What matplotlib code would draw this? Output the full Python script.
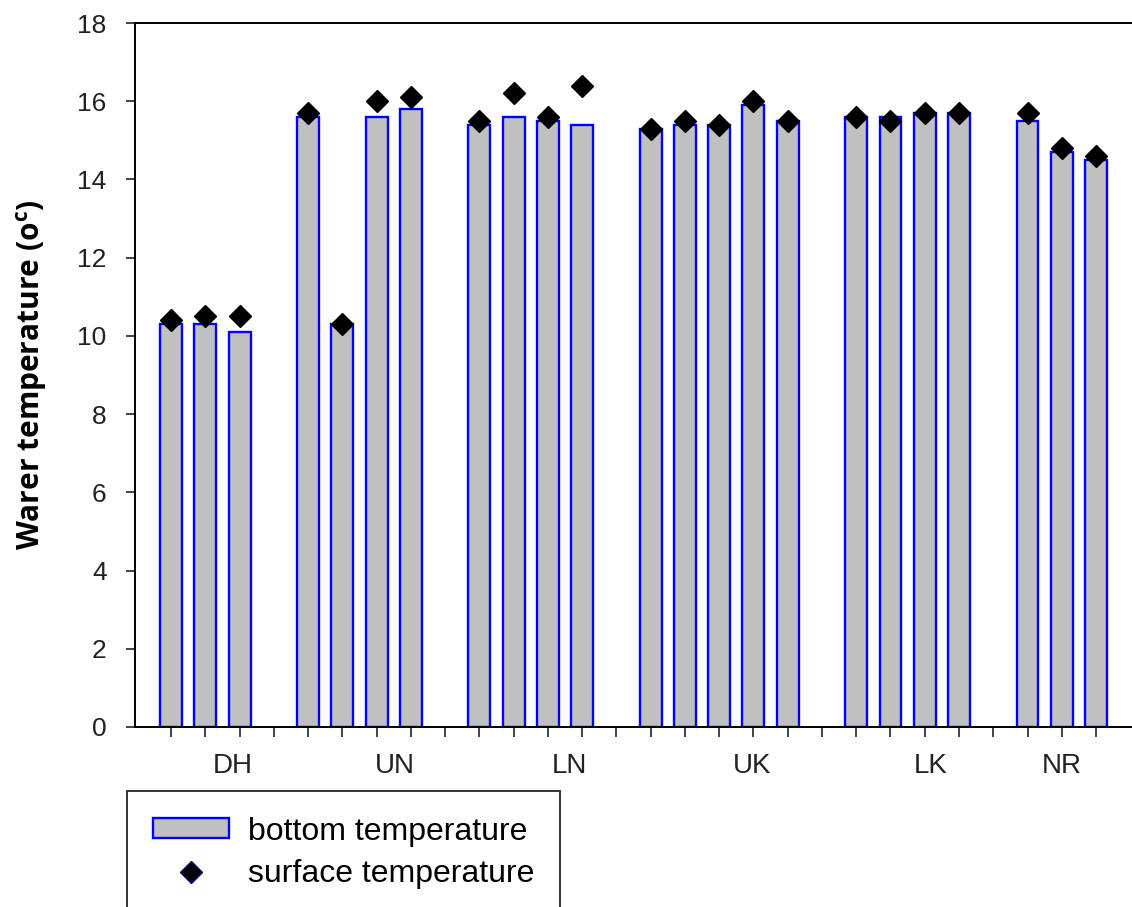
import matplotlib
matplotlib.use("Agg")
import matplotlib.pyplot as plt
from matplotlib.patches import Patch
from matplotlib.lines import Line2D

plt.rcParams['font.family'] = ['Liberation Sans', 'DejaVu Sans']
plt.rcParams['mathtext.fontset'] = 'custom'
plt.rcParams['mathtext.rm'] = 'Open Sans'

# sites and number of stations sampled at each
sites = ['DH', 'UN', 'LN', 'UK', 'LK', 'NR']
n_stations = [3, 4, 4, 5, 4, 3]

# water temperature (deg C) per station, in site order
bottom_temp = [10.3, 10.3, 10.1,
               15.6, 10.3, 15.6, 15.8,
               15.4, 15.6, 15.5, 15.4,
               15.3, 15.4, 15.4, 15.9, 15.5,
               15.6, 15.6, 15.7, 15.7,
               15.5, 14.7, 14.5]
surface_temp = [10.4, 10.5, 10.5,
                15.7, 10.3, 16.0, 16.1,
                15.5, 16.2, 15.6, 16.4,
                15.3, 15.5, 15.4, 16.0, 15.5,
                15.6, 15.5, 15.7, 15.7,
                15.7, 14.8, 14.6]

# where each site name sits along the x axis (slot units)
site_label_x = [1.81, 6.54, 11.64, 16.95, 22.18, 26.0]

# one slot per station, plus an empty slot between sites
xpos = []
slot = 0
for n in n_stations:
    xpos.extend(range(slot, slot + n))
    slot += n + 1
n_slots = slot - 1

fig = plt.figure(figsize=(11.32, 9.07), dpi=100)
ax = fig.add_axes([0.1193, 0.1985, 0.8807, 0.7761])

ax.bar(xpos, bottom_temp, width=0.64, color='#c0c0c0',
       edgecolor='#0000ff', linewidth=1.7, zorder=2)
ax.plot(xpos, surface_temp, linestyle='none', marker='D', markersize=11,
        color='black', markeredgecolor='black', zorder=3)

ax.set_xlim(-1.05, 28.05)
ax.set_ylim(0, 18)
ax.set_yticks(range(0, 19, 2))
ax.set_xticks(range(n_slots))
ax.set_xticklabels([])

ax.spines['right'].set_visible(False)
for s in ['left', 'top', 'bottom']:
    ax.spines[s].set_linewidth(1.4)
ax.tick_params(axis='y', direction='out', length=6.5, width=1.2,
               labelsize=19, pad=14, colors='#222222')
ax.tick_params(axis='x', direction='out', length=7, width=1.2, colors='#222222')

for name, lx in zip(sites, site_label_x):
    ax.text(lx, -0.0554, name, transform=ax.get_xaxis_transform(),
            ha='center', va='center', fontsize=20, color='#222222')

fig.text(32 / 1132, 0.5865, r'Warer temperature (o$^\mathregular{c}$)',
         rotation=90, ha='center', va='center', fontsize=21.5,
         fontweight='bold', family='Open Sans')

handles = [Patch(facecolor='#c0c0c0', edgecolor='#0000ff', linewidth=1.7),
           Line2D([], [], linestyle='none', marker='D', markersize=11,
                  color='black', markeredgecolor='#000080')]
leg = fig.legend(handles, ['bottom temperature', 'surface temperature'],
                 loc='upper left', bbox_to_anchor=(127 / 1132, 1 - 791 / 907),
                 fontsize=23, frameon=True, fancybox=False, borderaxespad=0,
                 handlelength=2.4, handleheight=0.6, handletextpad=0.6,
                 borderpad=0.8, labelspacing=0.4)
leg.get_frame().set_edgecolor('black')
leg.get_frame().set_linewidth(1.4)

fig.savefig('out.png', dpi=100)
